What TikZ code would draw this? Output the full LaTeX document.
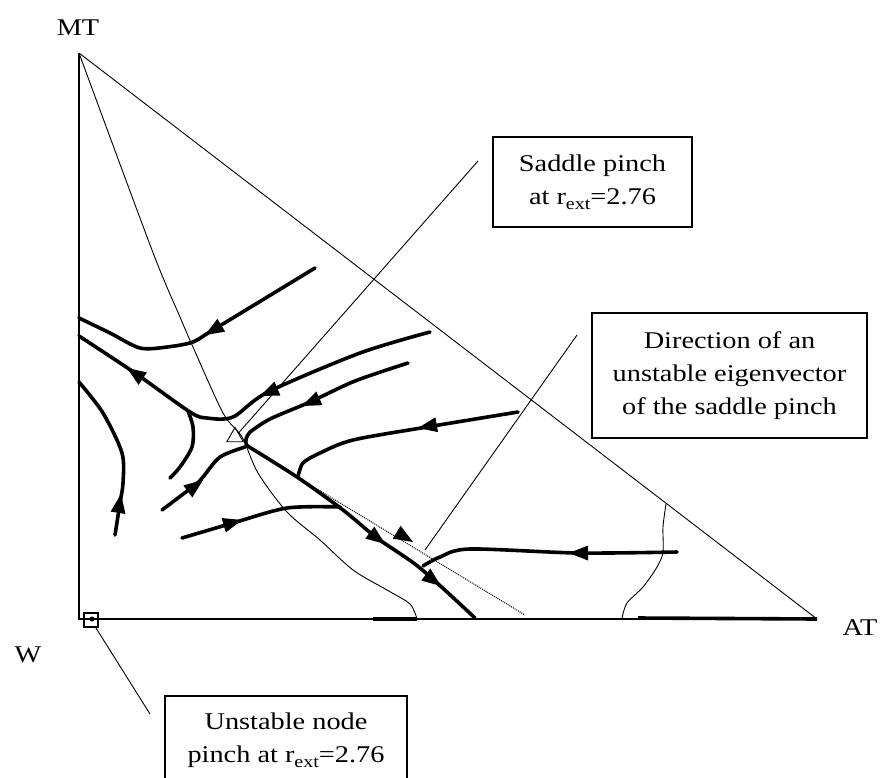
\documentclass[tikz,border=0pt]{standalone}
\usepackage{fontspec}
\setmainfont{Liberation Serif}[FakeStretch=1.18]
\usetikzlibrary{arrows.meta,shapes.geometric,positioning}
\tikzset{
  flw/.style={line width=3.6pt,line cap=round,line join=round},
  thn/.style={line width=.9pt},
  ax/.style={line width=1.5pt},
  % arrowhead on a trajectory, tip at the origin
  hd/.pic={\fill (0,0) -- (-19,-7.5) -- (-19,7.5) -- cycle;},
  bx/.style={draw,line width=1.5pt,fill=white,align=center,inner sep=0pt},
  lb/.style={font=\fontsize{24}{33}\selectfont},
}
\newcommand{\rext}{r\raisebox{-5pt}{\fontsize{17}{17}\selectfont ext}}

\begin{document}
\begin{tikzpicture}[x=1pt,y=-1pt]
\useasboundingbox (0,0) rectangle (881,777);
% composition triangle
\coordinate (MTv) at (79,53);
\coordinate (Wv)  at (79,619);
\coordinate (ATv) at (817,619);
\draw[ax] (MTv) -- (Wv) -- (ATv);
\draw[thn] (MTv) -- (ATv);
\node[lb] (mt) at (78,28) {MT};
\node[lb] (w)  at (28,655) {W};
\node[lb] (at) at (860,628) {AT};
% pinch points
\node[draw,thn,regular polygon,regular polygon sides=3,minimum size=19pt,inner sep=0pt] (saddle) at (235,437) {};
\node[draw,line width=1.2pt,minimum size=14pt,inner sep=0pt] (unode) at (91,620) {};
\fill (92,619) circle (2.5pt);
% separatrices (thin)
\draw[thn] plot[smooth] coordinates {(79,53) (152,250) (180,317) (193,347) (223,413) (242,437)
  (258,473) (287,512) (320,540) (353,570) (387,590) (410,604) (417,619)};
\draw[thn] plot[smooth] coordinates {(666,504) (663,527) (663,552) (657,567) (643,587) (627,603) (622,618)};
% trajectories
\draw[flw] plot[smooth] coordinates {(315,268) (213,330) (193,342) (167,347) (140,348) (110,333) (79,318)};
\draw[flw] plot[smooth] coordinates {(430,332) (360,353) (268,392) (233,417) (207,418) (190,412) (135,373) (79,336)};
\draw[flw] plot[smooth] coordinates {(408,363) (355,381) (310,402) (270,419) (250,432)};
\draw[flw] (250,432) to[out=-130,in=120] (247,446);
\draw[flw] plot[smooth] coordinates {(246,445) (297,477) (343,510) (377,538) (420,568) (475,618)};
\draw[flw] plot[smooth] coordinates {(518,412) (427,427) (353,440) (320,453) (303,463) (298,477)};
\draw[flw] plot[smooth] coordinates {(162,510) (195,485) (203,477) (220,457) (245,447)};
\draw[flw] plot[smooth] coordinates {(188,411) (193,427) (192,447) (180,467) (170,478)};
\draw[flw] plot[smooth] coordinates {(115,535) (120,503) (123,483) (122,453) (103,413) (79,382)};
\draw[flw] plot[smooth] coordinates {(182,538) (233,523) (287,508) (340,507)};
\draw[flw] plot[smooth] coordinates {(677,552) (578,553) (470,549) (440,557) (423,566)};
\draw[flw,line cap=butt] (373,619) -- (417,619);
\draw[flw,line cap=butt] (638,618) -- (ATv);
% arrowheads: tip x / tip y / heading (canvas angle)
\foreach \x/\y/\a in {205/335/-149, 260/396/-157, 127/368/-214, 302/406/-156, 385/544/-37,
  441/586/-37, 418/428/-170, 203/480/37, 121/494/81, 242/520/16, 569/553/180}
  \pic[rotate=\a] at (\x,\y) {hd};
% unstable eigenvector
\coordinate (ev0) at (246,446);
\coordinate (ev1) at (525,615);
\draw[line width=1pt,densely dotted] (ev0) -- (ev1);
\pic[rotate=-31] at (413,542) {hd};
% labels and leaders
\node[bx,lb,minimum width=199pt,minimum height=90pt] (sbox) at (592.5,182) {Saddle pinch\\at \rext=2.76};
\node[bx,lb,minimum width=275pt,minimum height=125pt] (dbox) at (729.5,375.5) {Direction of an\\unstable eigenvector\\of the saddle pinch};
\node[bx,lb,minimum width=242pt,minimum height=88pt] (ubox) at (286,740) {Unstable node\\pinch at \rext=2.76};
\coordinate (stip) at (478,161);
\coordinate (dlo) at (425,550);
\coordinate (dhi) at (577,335);
\coordinate (utip) at (150,714);
\draw[thn] (saddle) -- (stip);
\draw[thn] (dlo) -- (dhi);
\draw[thn] (unode) -- (utip);
\end{tikzpicture}
\end{document}
